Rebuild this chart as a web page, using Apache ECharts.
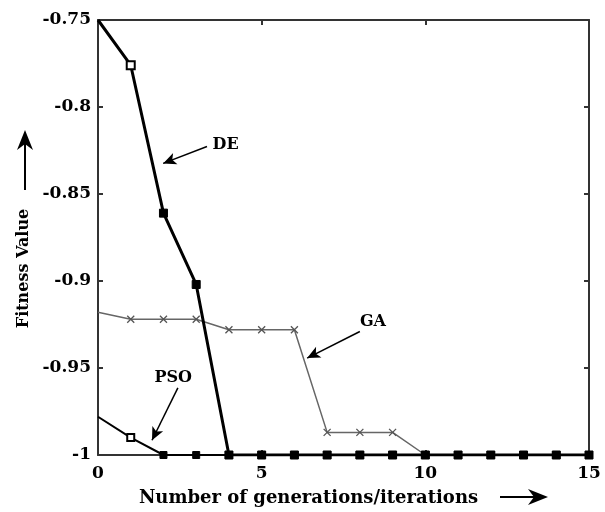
<!DOCTYPE html>
<html>
<head>
<meta charset="utf-8">
<script src="https://cdn.jsdelivr.net/npm/echarts@6/dist/echarts.min.js"></script>
<style>
    html, body {margin: 0; padding: 0; background: #fff;}
    #chart {width: 605px; height: 512px;}
</style>
</head>
<body>
<div id="chart"></div>
<script>
// 迭代次数
var generations = [0, 1, 2, 3, 4, 5, 6, 7, 8, 9, 10, 11, 12, 13, 14, 15];
// 各算法适应度
var deValues  = [-0.75, -0.776, -0.861, -0.902, -1, -1, -1, -1, -1, -1, -1, -1, -1, -1, -1, -1];
var gaValues  = [-0.918, -0.922, -0.922, -0.922, -0.928, -0.928, -0.928, -0.987, -0.987, -0.987, -1, -1, -1, -1, -1, -1];
var psoValues = [-0.978, -0.990, -1, -1, -1, -1, -1, -1, -1, -1, -1, -1, -1, -1, -1, -1];
// 坐标刻度
var xTicks = [0, 5, 10, 15];
var yTicks = [-1, -0.95, -0.9, -0.85, -0.8, -0.75];

// 标注：文字位置, 箭头起点, 箭头终点
var deNote  = {text: 'DE',  label: [3.9, -0.8215], from: [3.33, -0.8227], to: [1.99, -0.8324]};
var gaNote  = {text: 'GA',  label: [8.4, -0.9235], from: [8.0, -0.929],   to: [6.39, -0.9443]};
var psoNote = {text: 'PSO', label: [2.3, -0.9557], from: [2.44, -0.9614], to: [1.65, -0.9915]};

var FONT = 'DejaVu Serif';

/**
 * 组装折线数据，第一个点不画标记
 */
var buildData = function (values, symbolFn) {
    return generations.map(function (g, i) {
        var item = {value: [g, values[i]]};
        var s = symbolFn(i);
        if (s) item.symbol = s;
        return item;
    });
};

/**
 * 标注箭头（数据坐标）
 */
var noteLine = function (note) {
    return {
        silent: true,
        symbol: ['none', 'arrow'],
        symbolSize: [9, 13],
        label: {show: false},
        lineStyle: {color: '#000', width: 1.5, type: 'solid'},
        data: [[{coord: note.from}, {coord: note.to}]]
    };
};
var notePoint = function (note) {
    return {
        silent: true,
        symbol: 'circle',
        symbolSize: 1,
        itemStyle: {color: 'rgba(0,0,0,0)'},
        label: {
            show: true, position: 'inside', formatter: note.text,
            color: '#000', fontFamily: FONT, fontWeight: 'bold', fontSize: 16
        },
        data: [{coord: note.label}]
    };
};

var chart = echarts.init(document.getElementById('chart'), null, {renderer: 'canvas'});

var axisLineStyle = {color: '#333', width: 2};
var option = {
    animation: false,
    backgroundColor: '#fff',
    grid: {left: 98, right: 16, top: 20, bottom: 52},
    xAxis: [{
        type: 'value', min: xTicks[0], max: xTicks[xTicks.length - 1], interval: 5,
        position: 'bottom',
        axisLine: {show: true, onZero: false, lineStyle: axisLineStyle},
        axisTick: {show: true, inside: true, length: 5, lineStyle: {color: '#333', width: 2}},
        axisLabel: {color: '#000', fontFamily: FONT, fontWeight: 'bold', fontSize: 17, margin: 10},
        splitLine: {show: false},
        name: 'Number of generations/iterations',
        nameLocation: 'middle', nameGap: 34,
        nameTextStyle: {color: '#000', fontFamily: FONT, fontWeight: 'bold', fontSize: 18, padding: [0, 70, 0, 0]}
    }, {
        type: 'value', min: xTicks[0], max: xTicks[xTicks.length - 1], interval: 5,
        position: 'top',
        axisLine: {show: true, onZero: false, lineStyle: axisLineStyle},
        axisTick: {show: true, inside: true, length: 5, lineStyle: {color: '#333', width: 2}},
        axisLabel: {show: false},
        splitLine: {show: false}
    }],
    yAxis: [{
        type: 'value', min: yTicks[0], max: yTicks[yTicks.length - 1], interval: 0.05,
        position: 'left',
        axisLine: {show: true, onZero: false, lineStyle: axisLineStyle},
        axisTick: {show: true, inside: true, length: 5, lineStyle: {color: '#333', width: 2}},
        axisLabel: {color: '#000', fontFamily: FONT, fontWeight: 'bold', fontSize: 17, margin: 7},
        splitLine: {show: false},
        name: 'Fitness Value',
        nameLocation: 'middle', nameGap: 62, nameRotate: 90,
        nameTextStyle: {color: '#000', fontFamily: FONT, fontWeight: 'bold', fontSize: 16, padding: [0, 62, 0, 0]}
    }, {
        type: 'value', min: yTicks[0], max: yTicks[yTicks.length - 1], interval: 0.05,
        position: 'right',
        axisLine: {show: true, onZero: false, lineStyle: axisLineStyle},
        axisTick: {show: true, inside: true, length: 5, lineStyle: {color: '#333', width: 2}},
        axisLabel: {show: false},
        splitLine: {show: false}
    }],
    series: [{
        name: 'GA', type: 'line', z: 2,
        symbol: 'path://M0,0L10,10M10,0L0,10', symbolSize: 7,
        itemStyle: {color: 'rgba(0,0,0,0)', borderColor: '#555', borderWidth: 1.3},
        lineStyle: {color: '#666', width: 1.5},
        data: buildData(gaValues, function (i) { return i === 0 ? 'none' : null; }),
        markLine: noteLine(gaNote),
        markPoint: notePoint(gaNote)
    }, {
        name: 'PSO', type: 'line', z: 3,
        symbol: 'rect', symbolSize: 7,
        itemStyle: {color: '#000', borderColor: '#000', borderWidth: 1},
        lineStyle: {color: '#000', width: 2},
        data: buildData(psoValues, function (i) {
            if (i === 0) return 'none';
            if (i === 1) return 'emptyRect';
            return null;
        }),
        markLine: noteLine(psoNote),
        markPoint: notePoint(psoNote)
    }, {
        name: 'DE', type: 'line', z: 4,
        symbol: 'rect', symbolSize: 8,
        itemStyle: {color: '#000', borderColor: '#000', borderWidth: 1},
        lineStyle: {color: '#000', width: 3},
        data: buildData(deValues, function (i) {
            if (i === 0) return 'none';
            if (i === 1) return 'emptyRect';
            return null;
        }),
        markLine: noteLine(deNote),
        markPoint: notePoint(deNote)
    }],
    // 坐标轴标题后的箭头
    graphic: [{
        type: 'line', shape: {x1: 500, y1: 497, x2: 536, y2: 497},
        style: {stroke: '#000', lineWidth: 2}
    }, {
        type: 'polygon', shape: {points: [[548, 497], [528, 489], [534, 497], [528, 505]]},
        style: {fill: '#000'}
    }, {
        type: 'line', shape: {x1: 25, y1: 190, x2: 25, y2: 142},
        style: {stroke: '#000', lineWidth: 2}
    }, {
        type: 'polygon', shape: {points: [[25, 130], [17, 150], [25, 144], [33, 150]]},
        style: {fill: '#000'}
    }]
};
chart.setOption(option);
</script>
</body>
</html>
